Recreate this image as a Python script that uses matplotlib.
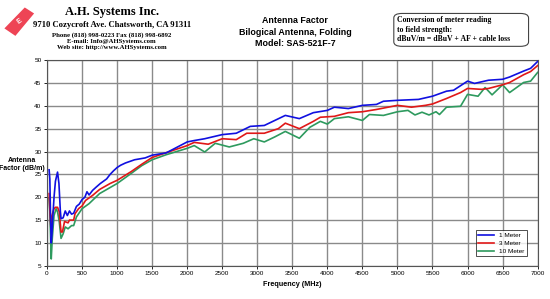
import matplotlib
matplotlib.use('Agg')
import matplotlib.pyplot as plt
from matplotlib.patches import FancyBboxPatch, Polygon

plt.rcParams['font.family'] = ['Liberation Sans', 'DejaVu Sans']

# Antenna factor curves (MHz, dB/m)
freq_1m = [30, 40, 50, 60, 70, 80, 100, 120, 150, 170, 190, 200, 230, 260, 290, 320, 350, 380,
           420, 460, 500, 540, 570, 600, 650, 700, 760, 850, 900, 950, 1000, 1050, 1120, 1250,
           1400, 1500, 1700, 2000, 2100, 2250, 2500, 2700, 2900, 3100, 3400, 3600, 3800, 4000,
           4100, 4300, 4500, 4700, 4800, 5000, 5300, 5500, 5700, 5800, 6000, 6100, 6300, 6500,
           6600, 6800, 6900, 7000]
af_1m = [26, 24, 16, 10, 12, 15, 20, 23.5, 25.5, 23, 17, 15.3, 15.5, 17, 16, 17, 16.3, 16.5,
         18, 18.5, 19.5, 20, 21.2, 20.5, 21.5, 22.2, 23, 24, 25, 25.8, 26.5, 27, 27.5, 28.2,
         28.6, 29.2, 29.7, 32.1, 32.4, 32.8, 33.7, 34, 35.5, 35.7, 37.9, 37.2, 38.5, 39,
         39.7, 39.4, 40.1, 40.3, 41, 41.2, 41.4, 42.1, 43.2, 43.4, 45.4, 44.9, 45.6, 45.8,
         46.3, 47.6, 48.2, 49.7]

freq_3m = [30, 40, 55, 70, 100, 120, 150, 175, 200, 220, 250, 300, 320, 380, 400, 450, 500,
           550, 650, 750, 900, 1000, 1200, 1350, 1500, 2000, 2100, 2300, 2500, 2700, 2850,
           3100, 3300, 3400, 3600, 3800, 3900, 4100, 4300, 4500, 4700, 5000, 5200, 5400,
           5500, 5700, 5900, 6000, 6200, 6300, 6500, 6600, 6800, 6900, 7000]
af_3m = [20.8, 17.5, 13.1, 16, 17.5, 17.8, 17.8, 16.8, 12.4, 12.4, 14.7, 14.4, 15, 15, 16.4,
         17.5, 18.1, 19.3, 20.4, 21.7, 23, 23.7, 25.6, 27.2, 28.7, 31.3, 32, 31.6, 32.8,
         32.6, 34, 34, 35, 36.2, 35, 36.6, 37.5, 37.7, 38.5, 38.7, 39.2, 40.1, 39.7, 40.1,
         40.4, 41.6, 42.9, 43.8, 43.6, 43.8, 44.6, 45.1, 46.8, 47.5, 48.8]

freq_10m = [30, 40, 60, 75, 100, 130, 150, 175, 200, 230, 260, 300, 350, 380, 420, 500, 600,
            750, 1000, 1200, 1350, 1500, 1700, 2000, 2100, 2250, 2400, 2600, 2800, 2950,
            3100, 3250, 3400, 3600, 3750, 3900, 4000, 4100, 4300, 4500, 4600, 4800, 5000,
            5150, 5250, 5350, 5450, 5550, 5600, 5700, 5900, 6000, 6150, 6250, 6350, 6500,
            6600, 6800, 6900, 7000]
af_10m = [19.7, 16.8, 6.5, 11, 16, 17.5, 16.8, 14.6, 11, 12, 13.5, 13.1, 13.8, 13.8, 15.7,
          17.5, 18.6, 20.8, 23, 25.2, 26.9, 28.2, 29.3, 30.7, 31.3, 29.9, 31.8, 31, 31.8,
          32.8, 32.1, 33.2, 34.4, 32.9, 35.3, 36.6, 36, 37.2, 37.6, 36.8, 38.1, 37.9, 38.7,
          39, 38, 38.6, 38, 38.7, 38.1, 39.7, 39.9, 42.5, 42.1, 44, 42.4, 44.6, 42.9, 45.1,
          45.4, 47.3]

x_ticks = list(range(0, 7001, 500))
y_ticks = list(range(5, 51, 5))

fig = plt.figure(figsize=(5.5, 2.99), dpi=100)
ax = fig.add_axes([0.0855, 0.111, 0.892, 0.688])

ax.plot(freq_1m, af_1m, color='#1010e0', lw=1.2, label='1 Meter', zorder=4)
ax.plot(freq_3m, af_3m, color='#e01818', lw=1.2, label='3 Meter', zorder=3)
ax.plot(freq_10m, af_10m, color='#2e9a5e', lw=1.2, label='10 Meter', zorder=2)

ax.set_xlim(0, 7000)
ax.set_ylim(5, 50)
ax.set_xticks(x_ticks)
ax.set_yticks(y_ticks)
ax.tick_params(labelsize=4.6, length=2, width=0.6, pad=2)
ax.grid(True, color='#8a8a8a', lw=1.0)
for s in ax.spines.values():
    s.set_linewidth(0.8)
    s.set_color('#555555')

ax.set_xlabel('Frequency (MHz)', fontsize=5.2, fontweight='bold', labelpad=3)
fig.text(0.04, 0.45, 'Antenna\nFactor (dB/m)', fontsize=5, ha='center', va='center',
         fontweight='bold', linespacing=1.1)

leg = ax.legend(loc='lower right', fontsize=4.6, frameon=True, fancybox=False,
                edgecolor='black', handlelength=2.5, borderpad=0.4, labelspacing=0.4,
                bbox_to_anchor=(0.985, 0.03))
leg.get_frame().set_linewidth(0.6)

# title
fig.text(0.537, 0.945, 'Antenna Factor\nBilogical Antenna, Folding\nModel: SAS-521F-7',
         ha='center', va='top', fontsize=6.4, fontweight='bold', linespacing=1.3)

# company header
fig.text(0.203, 0.98, 'A.H. Systems Inc.', ha='center', va='top', fontsize=9,
         fontweight='bold', family='Liberation Serif')
fig.text(0.203, 0.93, '9710 Cozycroft Ave. Chatsworth, CA 91311', ha='center', va='top',
         fontsize=6.2, fontweight='bold', family='Liberation Serif')
fig.text(0.203, 0.893, 'Phone (818) 998-0223 Fax (818) 998-6892\nE-mail: Info@AHSystems.com\n'
         'Web site: http://www.AHSystems.com', ha='center', va='top', fontsize=4.9,
         fontweight='bold', family='Liberation Serif', linespacing=1.3)

# logo
logo = Polygon([[0.008, 0.905], [0.045, 0.975], [0.062, 0.955], [0.028, 0.88]],
               closed=True, transform=fig.transFigure, facecolor='#ee4455',
               edgecolor='none')
fig.patches.append(logo)
fig.text(0.036, 0.928, 'E', color='white', fontsize=5, fontweight='bold',
         ha='center', va='center', rotation=35)

# conversion box
box = FancyBboxPatch((0.716, 0.845), 0.245, 0.11, boxstyle='round,pad=0,rounding_size=0.015',
                     transform=fig.transFigure, facecolor='white', edgecolor='#444444',
                     lw=0.8)
fig.patches.append(box)
fig.text(0.722, 0.945, 'Conversion of meter reading\nto field strength:\n'
         'dBuV/m = dBuV + AF + cable loss', ha='left', va='top', fontsize=5.6,
         fontweight='bold', family='Liberation Serif', linespacing=1.25)

fig.savefig('out.png', dpi=100)
